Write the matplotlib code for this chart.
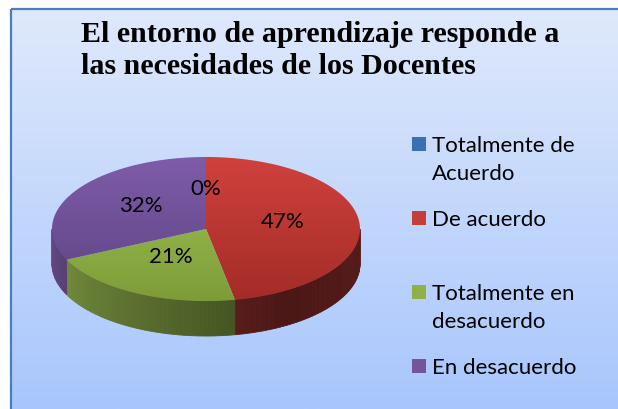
import numpy as np
import matplotlib
matplotlib.use('Agg')
import matplotlib.pyplot as plt
from matplotlib.patches import Polygon, Rectangle
from matplotlib.colors import LinearSegmentedColormap, to_rgb

# datos
categories = ['Totalmente de\nAcuerdo', 'De acuerdo', 'Totalmente en\ndesacuerdo', 'En desacuerdo']
values = [0, 47, 21, 32]
top_light = ['#4f87c6', '#d0413c', '#a2c653', '#7f5ca9']
top_dark = ['#3a6aa6', '#a32c28', '#7d9c39', '#5c4383']
legend_colors = ['#3b70b2', '#c53d38', '#8fb145', '#75549e']
title = 'El entorno de aprendizaje responde a\nlas necesidades de los Docentes'

W, H = 618, 410
fig = plt.figure(figsize=(W / 100, H / 100), dpi=100)
ax = fig.add_axes([0, 0, 1, 1])
ax.set_xlim(0, W)
ax.set_ylim(H, 0)
ax.axis('off')

# fondo con degradado
bg = LinearSegmentedColormap.from_list('bg', ['#dfe9fb', '#a8c6fd'])
grad = np.linspace(0, 1, 256).reshape(-1, 1)
ax.imshow(grad, cmap=bg, extent=(11, W, H, 10), origin='upper', aspect='auto', zorder=0)
ax.add_patch(Rectangle((11, 10), W, H, fill=False, edgecolor='#4a7ebb', lw=1.6, zorder=1))

# titulo, una linea cada vez
for k, line in enumerate(title.split('\n')):
    ax.text(81, 42 + 32.5 * k, line, fontsize=21.6, fontweight='bold', family='Liberation Serif',
            va='baseline', ha='left', zorder=5)

# geometria del pastel 3D
cx, cy, rx, ry, depth = 206, 230, 154, 72, 35


def pt(theta):
    t = np.deg2rad(theta)
    return cx + rx * np.cos(t), cy - ry * np.sin(t)


def wall_shade(theta):
    if theta < -60:
        return 0.36 + 0.42 * ((-60 - theta) / 120)
    return 0.36 + 0.06 * ((theta + 60) / 60)


fracs = np.array(values, dtype=float) / sum(values)
start = 90.0
for i, f in enumerate(fracs):
    end = start - 360 * f
    if f > 0:
        # pared frontal
        lo, hi = max(end, -180), min(start, 0)
        if hi > lo:
            ts = np.linspace(hi, lo, int((hi - lo) / 1.5) + 2)
            base = np.array(to_rgb(top_light[i]))
            for a, b in zip(ts[:-1], ts[1:]):
                x1, y1 = pt(a)
                x2, y2 = pt(b)
                c = base * wall_shade((a + b) / 2)
                ax.add_patch(Polygon([(x1, y1), (x2, y2), (x2, y2 + depth), (x1, y1 + depth)],
                                     closed=True, facecolor=c, edgecolor=c, lw=0.6, zorder=2))
        # cara superior
        ts = np.linspace(start, end, max(int(abs(start - end)), 2))
        verts = [(cx, cy)] + [pt(t) for t in ts]
        poly = Polygon(verts, closed=True, facecolor='none', edgecolor='none')
        ax.add_patch(poly)
        cm = LinearSegmentedColormap.from_list('s%d' % i, [top_light[i], top_dark[i]])
        im = ax.imshow(grad, cmap=cm, extent=(cx - rx, cx + rx, cy + ry, cy - ry),
                       origin='upper', aspect='auto', zorder=3)
        im.set_clip_path(poly)
    # etiqueta
    mid = np.deg2rad((start + end) / 2)
    lx = cx + 0.5 * rx * np.cos(mid)
    ly = cy - 0.5 * ry * np.sin(mid) - 5
    ax.text(lx, ly, '%d%%' % values[i], fontsize=16, family='Lato',
            ha='center', va='center', zorder=6)
    start = end

# leyenda
leg_y = [145, 219, 293, 367]
for i, lab in enumerate(categories):
    ax.add_patch(Rectangle((412, leg_y[i] - 7), 14, 14, facecolor=legend_colors[i],
                           edgecolor='none', zorder=5))
    for k, line in enumerate(lab.split('\n')):
        ax.text(432, leg_y[i] + 7 + 28.5 * k, line, fontsize=16, family='Lato',
                ha='left', va='baseline', zorder=5)

fig.savefig('out.png', dpi=100)
